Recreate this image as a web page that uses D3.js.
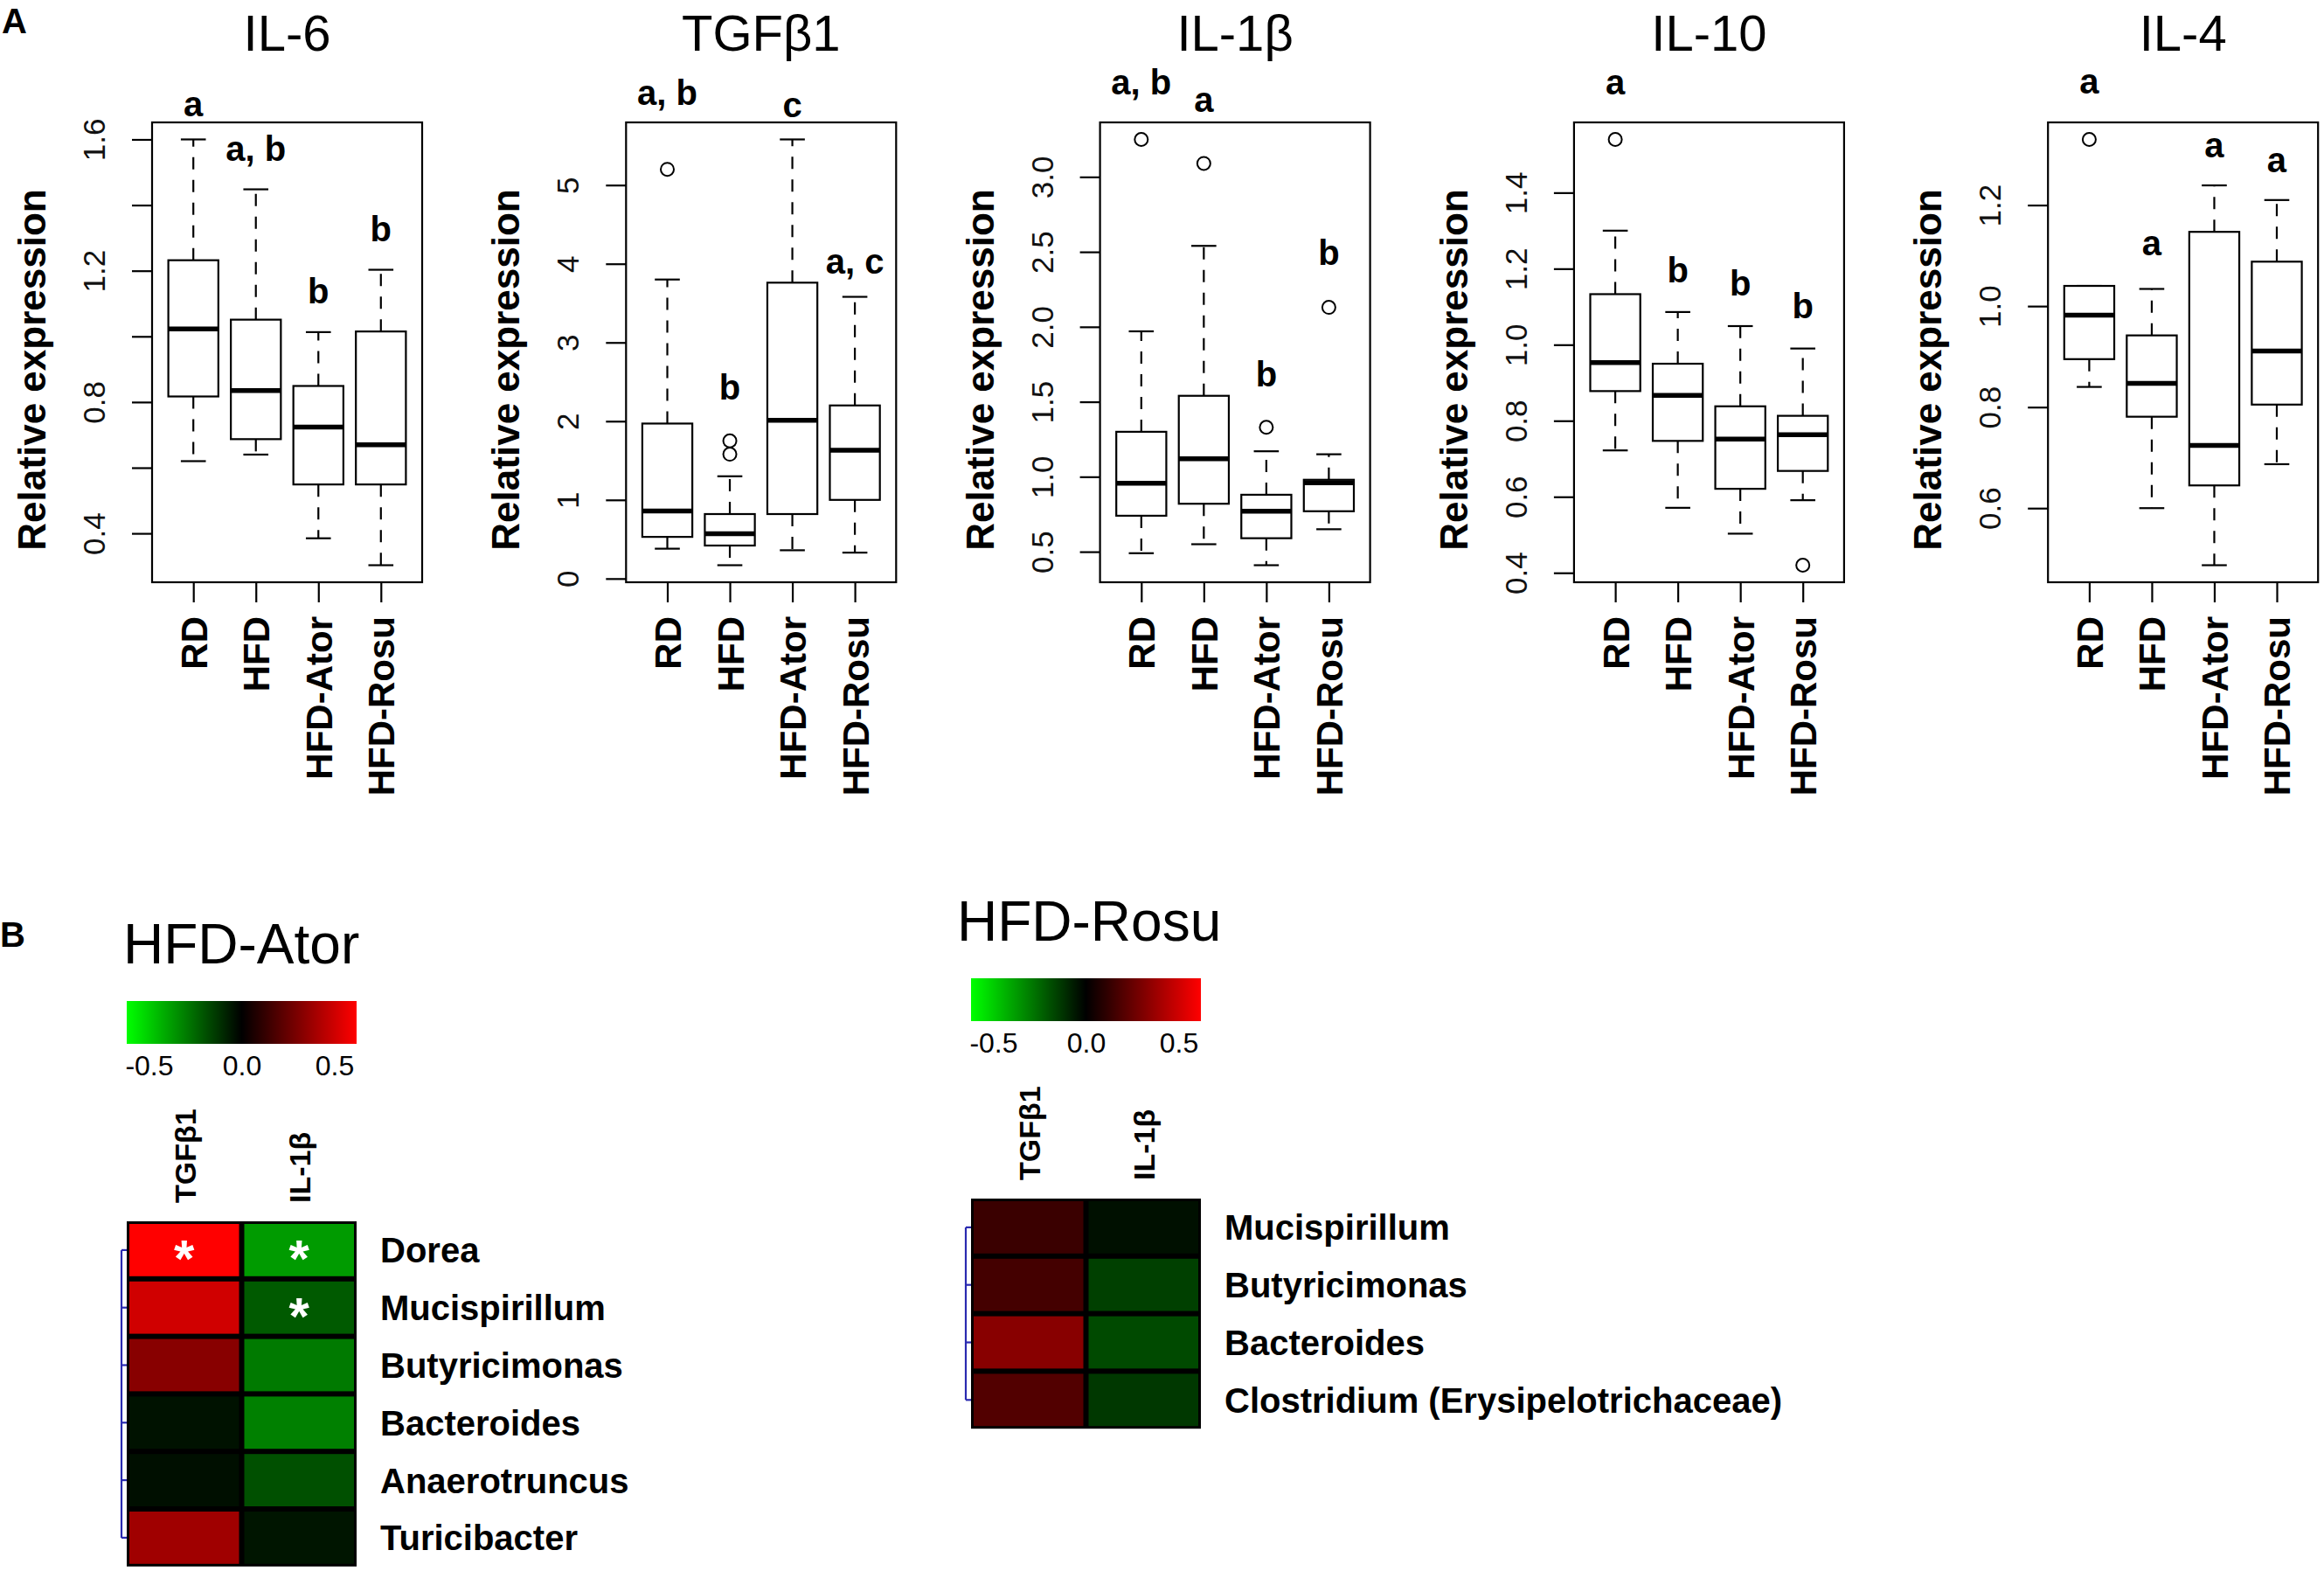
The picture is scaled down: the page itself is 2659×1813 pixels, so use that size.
<!DOCTYPE html>
<html>
<head>
<meta charset="utf-8">
<script src="https://cdn.jsdelivr.net/npm/d3@7"></script>
<style>
  body { margin: 0; background: #fff; }
  svg { display: block; font-family: "Liberation Sans", Arial, sans-serif; }
</style>
</head>
<body>
<svg id="chart" width="2659" height="1813"></svg>
<script>
'use strict';

// ---------- panel A : boxplots ----------
const groups = ["RD", "HFD", "HFD-Ator", "HFD-Rosu"];
const cytokines = ["IL-6", "TGFβ1", "IL-1β", "IL-10", "IL-4"];

// [lower whisker, Q1, median, Q3, upper whisker] for each group
const il6Box  = [[0.62, 0.817, 1.023, 1.232, 1.60], [0.64, 0.687, 0.835, 1.051, 1.448], [0.385, 0.549, 0.724, 0.849, 1.013], [0.303, 0.549, 0.670, 1.015, 1.203]];
const tgfBox  = [[0.38, 0.53, 0.86, 1.97, 3.80], [0.17, 0.42, 0.57, 0.82, 1.30], [0.36, 0.82, 2.01, 3.76, 5.58], [0.33, 1.00, 1.63, 2.20, 3.58]];
const il1bBox = [[0.49, 0.74, 0.957, 1.30, 1.97], [0.55, 0.82, 1.12, 1.54, 2.54], [0.41, 0.59, 0.77, 0.88, 1.17], [0.65, 0.77, 0.96, 0.98, 1.15]];
const il10Box = [[0.722, 0.878, 0.953, 1.133, 1.30], [0.571, 0.747, 0.867, 0.95, 1.086], [0.503, 0.621, 0.752, 0.838, 1.049], [0.591, 0.668, 0.763, 0.813, 0.99]];
const il4Box  = [[0.84, 0.895, 0.982, 1.04, 1.04], [0.60, 0.781, 0.847, 0.942, 1.034], [0.487, 0.645, 0.724, 1.147, 1.239], [0.687, 0.805, 0.911, 1.088, 1.21]];

const il6Out  = [[], [], [], []];
const tgfOut  = [[5.2], [1.75, 1.58], [], []];
const il1bOut = [[3.25], [3.09], [1.33], [2.13]];
const il10Out = [[1.54], [], [], [0.42]];
const il4Out  = [[1.33], [], [], []];

// significance letters and the value they sit at
const il6Sig  = ["a", "a, b", "b", "b"];
const il6SigAt  = [1.71, 1.573, 1.140, 1.327];
const tgfSig  = ["a, b", "b", "c", "a, c"];
const tgfSigAt  = [6.18, 2.44, 6.02, 4.04];
const il1bSig = ["a, b", "a", "b", "b"];
const il1bSigAt = [3.635, 3.515, 1.685, 2.50];
const il10Sig = ["a", "b", "b", "b"];
const il10SigAt = [1.691, 1.197, 1.163, 1.102];
const il4Sig  = ["a", "a", "a", "a"];
const il4SigAt  = [1.445, 1.126, 1.32, 1.29];

const il6Ticks  = [0.4, 0.6, 0.8, 1.0, 1.2, 1.4, 1.6];
const il6TickLabels  = ["0.4", "", "0.8", "", "1.2", "", "1.6"];
const tgfTicks  = [0, 1, 2, 3, 4, 5];
const tgfTickLabels  = ["0", "1", "2", "3", "4", "5"];
const il1bTicks = [0.5, 1.0, 1.5, 2.0, 2.5, 3.0];
const il1bTickLabels = ["0.5", "1.0", "1.5", "2.0", "2.5", "3.0"];
const il10Ticks = [0.4, 0.6, 0.8, 1.0, 1.2, 1.4];
const il10TickLabels = ["0.4", "0.6", "0.8", "1.0", "1.2", "1.4"];
const il4Ticks  = [0.6, 0.8, 1.0, 1.2];
const il4TickLabels  = ["0.6", "0.8", "1.0", "1.2"];

// ---------- panel B : correlation heatmaps ----------
const heatCols = ["TGFβ1", "IL-1β"];
const atorGenera = ["Dorea", "Mucispirillum", "Butyricimonas", "Bacteroides", "Anaerotruncus", "Turicibacter"];
const atorTgf  = [0.62, 0.506, 0.33, -0.044, -0.036, 0.389];
const atorIl1b = [-0.377, -0.219, -0.297, -0.31, -0.195, -0.051];
const atorTgfStar  = [true, false, false, false, false, false];
const atorIl1bStar = [true, true, false, false, false, false];
const rosuGenera = ["Mucispirillum", "Butyricimonas", "Bacteroides", "Clostridium (Erysipelotrichaceae)"];
const rosuTgf  = [0.141, 0.165, 0.33, 0.20];
const rosuIl1b = [-0.039, -0.156, -0.18, -0.136];
const keyTicks = [-0.5, 0.0, 0.5];

// ------------------------------------------------
const svg = d3.select('#chart');
svg.append('rect').attr('width', 2659).attr('height', 1813).attr('fill', '#fff');

const boxes = [il6Box, tgfBox, il1bBox, il10Box, il4Box];
const outs = [il6Out, tgfOut, il1bOut, il10Out, il4Out];
const sigs = [il6Sig, tgfSig, il1bSig, il10Sig, il4Sig];
const sigAts = [il6SigAt, tgfSigAt, il1bSigAt, il10SigAt, il4SigAt];
const ticks = [il6Ticks, tgfTicks, il1bTicks, il10Ticks, il4Ticks];
const tickLabels = [il6TickLabels, tgfTickLabels, il1bTickLabels, il10TickLabels, il4TickLabels];

svg.append('text').attr('x', 2).attr('y', 38)
   .attr('font-size', 40).attr('font-weight', 'bold').text('A');

const frameTop = 140, frameBottom = 666, frameW = 309;

cytokines.forEach(function(name, i){
	const left = 174 + i * 542.3;
	const box = boxes[i];
	const allVals = box.flat().concat(outs[i].flat());
	const lo = d3.min(allVals), hi = d3.max(allVals);
	const pad = (hi - lo) * 0.04;     // R style axis extension

	const y = d3.scaleLinear().domain([lo - pad, hi + pad]).range([frameBottom, frameTop]);
	const x = d3.scalePoint().domain(groups).range([left, left + frameW]).padding(0.66);
	const bw = x.step() * 0.8;

	const g = svg.append('g');

	g.append('text')
	  .attr('x', left + frameW / 2).attr('y', 58)
	  .attr('text-anchor', 'middle').attr('font-size', 58)
	  .text(name);

	// y axis, labels turned like R does
	const yAxis = g.append('g').attr('transform', `translate(${left},0)`)
	  .call(d3.axisLeft(y).tickValues(ticks[i]).tickSize(23).tickSizeOuter(0)
	         .tickFormat((d, k) => tickLabels[i][k]));
	yAxis.select('.domain').remove();
	yAxis.selectAll('.tick line').attr('stroke-width', 2.2);
	yAxis.selectAll('.tick text')
	  .attr('transform', 'rotate(-90)')
	  .attr('x', 0).attr('y', -54).attr('dy', 0)
	  .attr('text-anchor', 'middle')
	  .attr('font-size', 35).attr('fill', '#111');

	const xAxis = g.append('g').attr('transform', `translate(0,${frameBottom})`)
	  .call(d3.axisBottom(x).tickSize(23).tickSizeOuter(0));
	xAxis.select('.domain').remove();
	xAxis.selectAll('.tick line').attr('stroke-width', 2.2);
	xAxis.selectAll('.tick text')
	  .attr('transform', 'rotate(-90)')
	  .attr('x', -39).attr('y', 15).attr('dy', 0)
	  .attr('text-anchor', 'end')
	  .attr('font-size', 42).attr('font-weight', 'bold').attr('fill', '#000');

	g.append('text')
	  .attr('transform', `translate(${left - 122},423) rotate(-90)`)
	  .attr('text-anchor', 'middle').attr('font-size', 44).attr('font-weight', 'bold')
	  .text('Relative expression');

	groups.forEach(function(grp, k){
		const s = box[k];
		const cx = x(grp);
		// whiskers
		g.append('line').attr('x1', cx).attr('x2', cx).attr('y1', y(s[3])).attr('y2', y(s[4]))
		  .attr('stroke', '#000').attr('stroke-width', 2.2).attr('stroke-dasharray', '14,12');
		g.append('line').attr('x1', cx).attr('x2', cx).attr('y1', y(s[1])).attr('y2', y(s[0]))
		  .attr('stroke', '#000').attr('stroke-width', 2.2).attr('stroke-dasharray', '14,12');
		[s[0], s[4]].forEach(function(v){
			g.append('line').attr('x1', cx - bw / 4).attr('x2', cx + bw / 4)
			  .attr('y1', y(v)).attr('y2', y(v))
			  .attr('stroke', '#000').attr('stroke-width', 2.2);
		});
		g.append('rect').attr('x', cx - bw / 2).attr('y', y(s[3]))
		  .attr('width', bw).attr('height', y(s[1]) - y(s[3]))
		  .attr('fill', '#fff').attr('stroke', '#000').attr('stroke-width', 2.2);
		g.append('line').attr('x1', cx - bw / 2).attr('x2', cx + bw / 2)
		  .attr('y1', y(s[2])).attr('y2', y(s[2]))
		  .attr('stroke', '#000').attr('stroke-width', 5.5);
		g.selectAll(null).data(outs[i][k]).enter().append('circle')
		  .attr('cx', cx).attr('cy', d => y(d)).attr('r', 7.5)
		  .attr('fill', 'none').attr('stroke', '#000').attr('stroke-width', 2);
		g.append('text').attr('x', cx).attr('y', y(sigAts[i][k])).attr('dy', '0.36em')
		  .attr('text-anchor', 'middle').attr('font-size', 40).attr('font-weight', 'bold')
		  .text(sigs[i][k]);
	});

	g.append('rect').attr('x', left).attr('y', frameTop)
	  .attr('width', frameW).attr('height', frameBottom - frameTop)
	  .attr('fill', 'none').attr('stroke', '#000').attr('stroke-width', 2.2);
});

// ---------- panel B ----------
svg.append('text').attr('x', 0).attr('y', 1083)
   .attr('font-size', 40).attr('font-weight', 'bold').text('B');

const heatColor = d3.scaleLinear().domain([-0.62, 0, 0.62])
   .range(['#00ff00', '#000000', '#ff0000']).clamp(true);

const defs = svg.append('defs');
const grad = defs.append('linearGradient').attr('id', 'keyGrad');
d3.range(0, 1.0001, 0.05).forEach(function(t){
	grad.append('stop').attr('offset', t)
	  .attr('stop-color', heatColor(-0.62 + t * 1.24));
});

function drawHeat(opt){
	const g = svg.append('g');
	g.append('text').attr('x', opt.titleX).attr('y', opt.top - 295)
	  .attr('font-size', 64).text(opt.title);

	const cellW = 131.5, cellH = 65.8;
	const x = d3.scaleBand().domain(heatCols).range([opt.left, opt.left + 2 * cellW]);
	const y = d3.scaleBand().domain(opt.genera).range([opt.top, opt.top + opt.genera.length * cellH]);

	// colour key
	const keyTop = opt.top - 252, keyH = 49;
	g.append('rect').attr('x', opt.left).attr('y', keyTop)
	  .attr('width', 2 * cellW).attr('height', keyH).attr('fill', 'url(#keyGrad)');
	const kx = d3.scaleLinear().domain([-0.62, 0.62]).range([opt.left, opt.left + 2 * cellW]);
	const keyAxis = g.append('g').attr('transform', `translate(0,${keyTop + keyH})`)
	  .call(d3.axisBottom(kx).tickValues(keyTicks).tickSize(0).tickPadding(12)
	         .tickFormat(d => d.toFixed(1)));
	keyAxis.select('.domain').remove();
	keyAxis.selectAll('.tick text').attr('font-size', 32).attr('fill', '#000')
	  .attr('dy', '0.75em');

	// column labels
	g.selectAll('.collab').data(heatCols).enter().append('text')
	  .attr('transform', d => `translate(${x(d) + cellW / 2 + 13},${opt.top - 21}) rotate(-90)`)
	  .attr('font-size', 34).attr('font-weight', 'bold')
	  .text(d => d);

	// cells
	g.append('rect').attr('x', opt.left).attr('y', opt.top)
	  .attr('width', 2 * cellW).attr('height', opt.genera.length * cellH).attr('fill', '#000');
	opt.genera.forEach(function(gen, r){
		[opt.tgf[r], opt.il1b[r]].forEach(function(v, c){
			g.append('rect')
			  .attr('x', x(heatCols[c]) + 3).attr('y', y(gen) + 3)
			  .attr('width', x.bandwidth() - 6).attr('height', y.bandwidth() - 6)
			  .attr('fill', heatColor(v));
		});
		[opt.tgfStar[r], opt.il1bStar[r]].forEach(function(st, c){
			if(!st) return;
			g.append('text')
			  .attr('x', x(heatCols[c]) + cellW / 2)
			  .attr('y', y(gen) + cellH / 2 + 30)
			  .attr('text-anchor', 'middle').attr('font-size', 60).attr('font-weight', 'bold')
			  .attr('fill', '#fff').text('*');
		});
		g.append('text').attr('x', opt.left + 2 * cellW + 27).attr('y', y(gen) + cellH / 2)
		  .attr('dy', '0.36em').attr('font-size', 40).attr('font-weight', 'bold')
		  .text(gen);
	});

	// row dendrogram (flat bracket)
	const dx = opt.left - 6;
	const first = y(opt.genera[0]) + cellH / 2;
	const last = y(opt.genera[opt.genera.length - 1]) + cellH / 2;
	g.append('line').attr('x1', dx).attr('x2', dx).attr('y1', first).attr('y2', last)
	  .attr('stroke', '#2a2ab0').attr('stroke-width', 2.2);
	opt.genera.forEach(function(gen){
		g.append('line').attr('x1', dx).attr('x2', opt.left)
		  .attr('y1', y(gen) + cellH / 2).attr('y2', y(gen) + cellH / 2)
		  .attr('stroke', '#2a2ab0').attr('stroke-width', 2.2);
	});
}

drawHeat({title: 'HFD-Ator', titleX: 141, left: 145, top: 1397,
          genera: atorGenera, tgf: atorTgf, il1b: atorIl1b,
          tgfStar: atorTgfStar, il1bStar: atorIl1bStar});
drawHeat({title: 'HFD-Rosu', titleX: 1095, left: 1111, top: 1371,
          genera: rosuGenera, tgf: rosuTgf, il1b: rosuIl1b,
          tgfStar: rosuGenera.map(() => false), il1bStar: rosuGenera.map(() => false)});
</script>
</body>
</html>
